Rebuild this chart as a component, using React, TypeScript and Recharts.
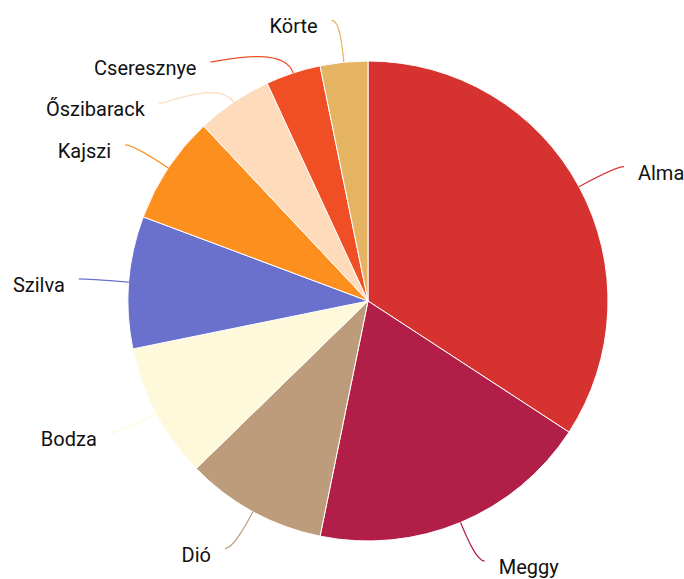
import React from "react";
import { PieChart, Pie, Cell } from "recharts";

const fruits = ["Alma", "Meggy", "Dió", "Bodza", "Szilva", "Kajszi", "Őszibarack", "Cseresznye", "Körte"];
const shares = [34.2, 19.0, 9.5, 9.1, 8.9, 7.3, 5.1, 3.7, 3.2];
const colors = ["#d63230", "#b11f48", "#bc9c7b", "#fef9db", "#6a71cd", "#fd8f1f", "#fddbbb", "#f04e25", "#e5b462"];

const data = fruits.map((name, i) => ({ name, value: shares[i] }));

const W = 684;
const H = 579;
const CX = 368;
const CY = 301;
const R = 240;
const R2 = 282; // where the label line bends
const L2 = 8; // horizontal bit of the label line
const GAP = 41.5; // min vertical distance between labels

type LabelPos = {
  sx: number;
  sy: number;
  dx: number;
  dy: number;
  ex: number;
  ey: number;
  ux: number;
  uy: number;
  right: boolean;
};

// place labels around the pie and push overlapping ones apart
function layoutLabels(): LabelPos[] {
  const total = shares.reduce((a, b) => a + b, 0);
  let cum = 0;
  const list: LabelPos[] = shares.map((v) => {
    const t = ((cum + v / 2) / total) * Math.PI * 2;
    cum += v;
    const ux = Math.sin(t);
    const uy = -Math.cos(t);
    return {
      sx: CX + R * ux,
      sy: CY + R * uy,
      dx: CX + R2 * ux,
      dy: CY + R2 * uy,
      ex: 0,
      ey: 0,
      ux,
      uy,
      right: ux >= 0,
    };
  });

  [true, false].forEach((side) => {
    const items = list.filter((p) => p.right === side).sort((a, b) => a.dy - b.dy);
    let last = -Infinity;
    items.forEach((p) => {
      if (p.dy < last + GAP) {
        p.dy = last + GAP;
        const off = p.dy - CY;
        if (Math.abs(off) < R2) {
          const w = Math.sqrt(R2 * R2 - off * off);
          p.dx = side ? CX + w : CX - w;
        }
      }
      last = p.dy;
    });
  });

  list.forEach((p) => {
    p.ex = p.right ? p.dx + L2 : p.dx - L2;
    p.ey = p.dy;
  });
  return list;
}

const labelPos = layoutLabels();

const renderLabel = (props: any) => {
  const p = labelPos[props.index];
  if (!p) return null;
  const dist = Math.hypot(p.dx - p.sx, p.dy - p.sy);
  const c1x = p.sx + p.ux * dist * 0.4;
  const c1y = p.sy + p.uy * dist * 0.4;
  const path = `M${p.sx},${p.sy} C${c1x},${c1y} ${p.dx},${p.dy} ${p.ex},${p.ey}`;
  return (
    <g key={`lbl-${props.index}`}>
      <path d={path} fill="none" stroke={colors[props.index]} strokeWidth={1.2} />
      <text
        x={p.right ? p.ex + 14 : p.ex - 14}
        y={p.ey + 13}
        textAnchor={p.right ? "start" : "end"}
        fill="#111"
        fontSize={20}
        fontFamily="Roboto, sans-serif"
      >
        {fruits[props.index]}
      </text>
    </g>
  );
};

export default function App() {
  return (
    <div style={{ width: W, height: H }}>
      {/* chart fills the whole window */}
      <style>{"body { margin: 0; }"}</style>
      <PieChart width={W} height={H} margin={{ top: 0, right: 0, bottom: 0, left: 0 }}>
        <Pie
          data={data}
          dataKey="value"
          nameKey="name"
          cx={CX}
          cy={CY}
          outerRadius={R}
          startAngle={90}
          endAngle={-270}
          stroke="#fff"
          strokeWidth={1}
          label={renderLabel}
          labelLine={false}
          isAnimationActive={false}
        >
          {data.map((d, i) => (
            <Cell key={d.name} fill={colors[i]} />
          ))}
        </Pie>
      </PieChart>
    </div>
  );
}
